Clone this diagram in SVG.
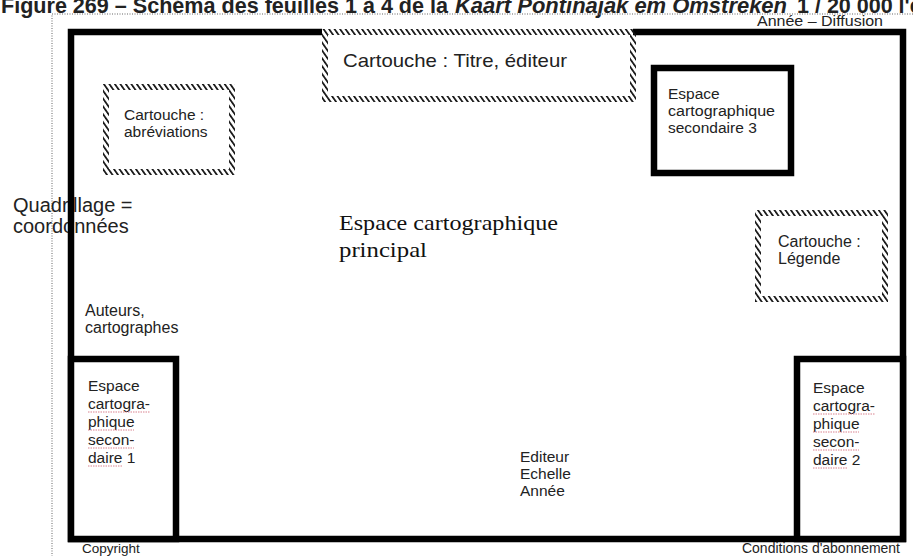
<svg xmlns="http://www.w3.org/2000/svg" width="913" height="556" viewBox="0 0 913 556">
<defs>
<pattern id="hatch" width="4.5" height="4.5" patternUnits="userSpaceOnUse" patternTransform="rotate(-35)">
<rect width="1.7" height="4.5" fill="#111"/>
</pattern>
<style>
.t{font-family:"Liberation Sans",Arial,sans-serif;fill:#222}
.serif{font-family:"Liberation Serif","Times New Roman",serif;fill:#111}
.frame{fill:none;stroke:#000;stroke-width:6.5}
.box{fill:#fff;stroke:#000;stroke-width:6.5}
.hatch{fill:#fff;stroke:url(#hatch);stroke-width:6}
.dot{fill:none;stroke:#999;stroke-width:1.5;stroke-dasharray:1 1.5}
.sq{fill:none;stroke:#d9828f;stroke-width:1;stroke-dasharray:1.5 1}
</style>
</defs>
<rect width="913" height="556" fill="#fff"/>

<g id="caption">
<text class="t" font-weight="bold" font-size="21.5" y="12.5" fill="#000"><tspan x="1" textLength="447" lengthAdjust="spacingAndGlyphs">Figure 269 – Schéma des feuilles 1 à 4 de la</tspan><tspan x="455" font-style="italic" textLength="332" lengthAdjust="spacingAndGlyphs">Kaart Pontinajak em Omstreken</tspan><tspan x="797">1 / 20 000 l'éd</tspan></text>
</g>

<g id="page-border">
<polyline class="dot" points="913,14 52,14 52,556"/>
</g>

<g id="quadrillage">
<text class="t" font-size="20" x="13" y="212">Quadrillage =</text>
<text class="t" font-size="20" x="13" y="233">coordonnées</text>
</g>

<g id="main-frame">
<polyline class="frame" points="322,32 71,32 71,539 903,539 903,32 633,32"/>
</g>

<g id="annee-diffusion">
<text class="t" font-size="14" x="757" y="26" textLength="126" lengthAdjust="spacingAndGlyphs">Année – Diffusion</text>
</g>

<g id="cartouche-titre">
<rect class="hatch" x="325" y="32" width="308" height="67"/>
<text class="t" font-size="18.5" x="343" y="67" textLength="224" lengthAdjust="spacingAndGlyphs">Cartouche : Titre, éditeur</text>
</g>

<g id="cartouche-abreviations">
<rect class="hatch" x="106" y="87" width="126" height="85"/>
<text class="t" font-size="15.5" x="124" y="120">Cartouche :</text>
<text class="t" font-size="15.5" x="124" y="137">abréviations</text>
</g>

<g id="espace-secondaire-3">
<rect class="box" x="654" y="68" width="137" height="105" stroke-width="5"/>
<text class="t" font-size="15.5" x="668" y="99">Espace</text>
<text class="t" font-size="15.5" x="668" y="116" textLength="107" lengthAdjust="spacingAndGlyphs">cartographique</text>
<text class="t" font-size="15.5" x="668" y="133">secondaire 3</text>
</g>

<g id="espace-principal">
<text class="serif" font-size="21" x="339" y="230" textLength="219" lengthAdjust="spacingAndGlyphs">Espace cartographique</text>
<text class="serif" font-size="21" x="339" y="257" textLength="88" lengthAdjust="spacingAndGlyphs">principal</text>
</g>

<g id="cartouche-legende">
<rect class="hatch" x="758" y="213" width="127" height="86"/>
<text class="t" font-size="16" x="778" y="247">Cartouche :</text>
<text class="t" font-size="16" x="778" y="264">Légende</text>
</g>

<g id="auteurs">
<text class="t" font-size="16" x="85" y="316">Auteurs,</text>
<text class="t" font-size="16" x="85" y="333">cartographes</text>
</g>

<g id="espace-secondaire-1">
<rect class="box" x="71" y="359" width="105" height="180"/>
<text class="t" font-size="15.5" x="88" y="391">Espace</text>
<text class="t" font-size="15.5" x="88" y="409">cartogra-</text>
<text class="t" font-size="15.5" x="88" y="427">phique</text>
<text class="t" font-size="15.5" x="88" y="445">secon-</text>
<text class="t" font-size="15.5" x="88" y="463">daire 1</text>
<path class="sq" d="M88,412h62M88,430h46M88,448h46M88,466h34"/>
</g>

<g id="espace-secondaire-2">
<rect class="box" x="797" y="359" width="106" height="180"/>
<text class="t" font-size="15.5" x="813" y="393">Espace</text>
<text class="t" font-size="15.5" x="813" y="411">cartogra-</text>
<text class="t" font-size="15.5" x="813" y="429">phique</text>
<text class="t" font-size="15.5" x="813" y="447">secon-</text>
<text class="t" font-size="15.5" x="813" y="465">daire 2</text>
<path class="sq" d="M813,414h62M813,432h46M813,450h46M813,468h34"/>
</g>

<g id="editeur-echelle-annee">
<text class="t" font-size="15.5" x="520" y="462">Editeur</text>
<text class="t" font-size="15.5" x="520" y="479">Echelle</text>
<text class="t" font-size="15.5" x="520" y="496">Année</text>
</g>

<g id="copyright">
<text class="t" font-size="13.5" x="82" y="553">Copyright</text>
</g>

<g id="conditions">
<text class="t" font-size="14" x="742" y="553" textLength="158" lengthAdjust="spacingAndGlyphs">Conditions d'abonnement</text>
</g>

<g id="connectors"></g>
</svg>
